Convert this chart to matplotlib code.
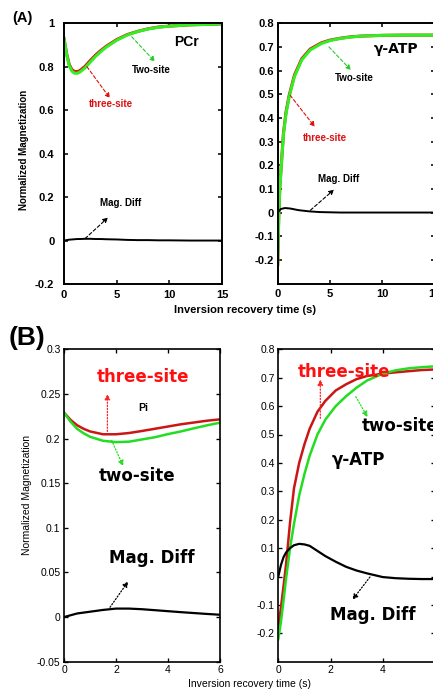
import numpy as np
import matplotlib
matplotlib.use("Agg")
import matplotlib.pyplot as plt

plt.rcParams['font.family'] = ['Liberation Sans', 'DejaVu Sans']

# ---------------- data ----------------
# (A) PCr
t_pcr = [0, 0.25, 0.5, 0.75, 1.0, 1.25, 1.5, 2, 2.5, 3, 3.5, 4, 5, 6, 7, 8, 9, 10, 12, 15]
pcr_two = [0.93, 0.855, 0.805, 0.78, 0.77, 0.77, 0.775, 0.795, 0.822, 0.848, 0.87, 0.89,
           0.922, 0.946, 0.962, 0.974, 0.982, 0.987, 0.993, 0.997]
pcr_three = [0.93, 0.86, 0.81, 0.787, 0.778, 0.778, 0.782, 0.802, 0.829, 0.854, 0.875, 0.894,
             0.925, 0.948, 0.963, 0.975, 0.983, 0.987, 0.993, 0.997]
pcr_diff = [0, 0.002, 0.004, 0.005, 0.006, 0.007, 0.007, 0.008, 0.008, 0.007, 0.007, 0.006,
            0.005, 0.003, 0.002, 0.002, 0.001, 0.001, 0.0, 0.0]

# (A) gamma-ATP
t_atp_a = [0, 0.1, 0.2, 0.35, 0.55, 0.8, 1.1, 1.6, 2.3, 3.1, 4.2, 5, 6, 7, 8, 10, 12, 15]
atp_a_two = [-0.22, -0.02, 0.1, 0.2, 0.33, 0.42, 0.49, 0.575, 0.645, 0.687, 0.715, 0.727,
             0.736, 0.742, 0.746, 0.749, 0.75, 0.75]
atp_a_three = [-0.22, -0.015, 0.105, 0.205, 0.335, 0.426, 0.496, 0.581, 0.65, 0.691, 0.718, 0.729,
               0.737, 0.743, 0.746, 0.749, 0.75, 0.75]
t_atp_a_diff = [0, 0.3, 0.7, 1.2, 2, 3, 4, 6, 10, 15]
atp_a_diff = [0.0, 0.015, 0.019, 0.017, 0.01, 0.005, 0.002, 0.0, 0.0, 0.0]

# (B) Pi
t_pi = [0, 0.25, 0.5, 0.75, 1.0, 1.5, 2.0, 2.5, 3, 3.5, 4, 4.5, 5, 5.5, 6]
pi_three = [0.229, 0.221, 0.215, 0.211, 0.208, 0.2048, 0.2048, 0.2062, 0.2085, 0.211, 0.2135,
            0.216, 0.218, 0.220, 0.2215]
pi_two = [0.229, 0.219, 0.211, 0.206, 0.202, 0.1975, 0.196, 0.1965, 0.199, 0.2015, 0.205,
          0.208, 0.2115, 0.2148, 0.2178]
pi_diff = [0, 0.002, 0.004, 0.005, 0.006, 0.008, 0.0095, 0.0095, 0.0088, 0.0077, 0.0066,
           0.0055, 0.0045, 0.0035, 0.0026]

# (B) gamma-ATP
t_atp_b = [0, 0.1, 0.2, 0.3, 0.45, 0.6, 0.8, 1.0, 1.2, 1.5, 1.8, 2.2, 2.6, 3.0, 3.4, 4, 4.5, 5, 5.5, 6]
atp_b_three = [-0.18, -0.11, -0.035, 0.045, 0.19, 0.31, 0.40, 0.465, 0.52, 0.58, 0.618, 0.655,
               0.677, 0.695, 0.706, 0.714, 0.719, 0.723, 0.727, 0.729]
atp_b_two = [-0.22, -0.16, -0.085, -0.005, 0.1, 0.185, 0.285, 0.36, 0.425, 0.5, 0.552, 0.6,
             0.635, 0.665, 0.69, 0.714, 0.726, 0.733, 0.737, 0.74]
atp_b_diff = [0.0, 0.04, 0.068, 0.085, 0.1, 0.11, 0.115, 0.113, 0.108, 0.09, 0.072, 0.052,
              0.034, 0.021, 0.011, -0.002, -0.006, -0.008, -0.009, -0.009]

# tick labels
ticks_a_left = [-0.2, 0, 0.2, 0.4, 0.6, 0.8, 1]
ticklabels_a_left = ['-0.2', '0', '0.2', '0.4', '0.6', '0.8', '1']
ticks_atp = [-0.2, -0.1, 0, 0.1, 0.2, 0.3, 0.4, 0.5, 0.6, 0.7, 0.8]
ticklabels_atp = ['-0.2', '-0.1', '0', '0.1', '0.2', '0.3', '0.4', '0.5', '0.6', '0.7', '0.8']
ticks_pi = [-0.05, 0, 0.05, 0.1, 0.15, 0.2, 0.25, 0.3]
ticklabels_pi = ['-0.05', '0', '0.05', '0.1', '0.15', '0.2', '0.25', '0.3']
xticks_a = [0, 5, 10, 15]
xticks_b = [0, 2, 4, 6]

# ---------------- figure ----------------
W, H = 433, 696
fig = plt.figure(figsize=(W / 100, H / 100), dpi=100)

def pos(x0, y0, x1, y1):
    return [x0 / W, 1 - y1 / H, (x1 - x0) / W, (y1 - y0) / H]

axA1 = fig.add_axes(pos(64, 23.3, 222, 284))
axA2 = fig.add_axes(pos(277.7, 23.3, 434.6, 283.5))
axB1 = fig.add_axes(pos(64, 349.3, 220, 661.7))
axB2 = fig.add_axes(pos(278.3, 349.3, 434.9, 661.7))

RED_A, GREEN_A = '#dd1111', '#33ee22'
RED_B, GREEN_B = '#cc1515', '#22dd22'

def style(ax, bold, lw, pad_y, pad_x, size):
    for s in ax.spines.values():
        s.set_linewidth(lw)
    ax.tick_params(direction='in', top=True, right=True, length=3, width=lw * 0.8,
                   labelsize=size)
    ax.tick_params(axis='y', pad=pad_y)
    ax.tick_params(axis='x', pad=pad_x)
    if bold:
        for lab in ax.get_xticklabels() + ax.get_yticklabels():
            lab.set_fontweight('bold')

# ---- A left: PCr ----
ax = axA1
ax.plot(t_pcr, pcr_three, color=RED_A, lw=2.2)
ax.plot(t_pcr, pcr_two, color=GREEN_A, lw=2.2)
ax.plot(t_pcr, pcr_diff, color='black', lw=1.4)
ax.set_xlim(0, 15); ax.set_ylim(-0.2, 1)
ax.set_xticks(xticks_a); ax.set_xticklabels([str(v) for v in xticks_a])
ax.set_yticks(ticks_a_left); ax.set_yticklabels(ticklabels_a_left)
style(ax, True, 1.4, 7, 4, 8)
ax.text(11.6, 0.914, 'PCr', fontsize=10, fontweight='bold', ha='center', va='center')
ax.text(8.3, 0.785, 'Two-site', fontsize=7, fontweight='bold', ha='center', va='center')
ax.text(4.46, 0.628, 'three-site', fontsize=7, fontweight='bold', color=RED_A, ha='center', va='center')
ax.text(5.4, 0.171, 'Mag. Diff', fontsize=7, fontweight='bold', ha='center', va='center')
arrA = dict(arrowstyle='-|>', linestyle=(0, (3, 2)), lw=0.8, mutation_scale=7, shrinkA=0, shrinkB=0)
ax.annotate('', xy=(8.64, 0.823), xytext=(6.43, 0.938), arrowprops=dict(arrA, color='#22cc22'))
ax.annotate('', xy=(4.37, 0.655), xytext=(2.18, 0.80), arrowprops=dict(arrA, color=RED_A))
ax.annotate('', xy=(4.18, 0.106), xytext=(2.0, 0.009), arrowprops=dict(arrA, color='black'))

# ---- A right: gamma-ATP ----
ax = axA2
ax.plot(t_atp_a, atp_a_three, color=RED_A, lw=2.2)
ax.plot(t_atp_a, atp_a_two, color=GREEN_A, lw=2.2)
ax.plot(t_atp_a_diff, atp_a_diff, color='black', lw=1.4)
ax.set_xlim(0, 15); ax.set_ylim(-0.3, 0.8)
ax.set_xticks(xticks_a); ax.set_xticklabels([str(v) for v in xticks_a])
ax.set_yticks(ticks_atp); ax.set_yticklabels(ticklabels_atp)
style(ax, True, 1.4, 2.5, 4, 8)
ax.text(11.35, 0.69, 'γ-ATP', fontsize=10, fontweight='bold', ha='center', va='center',
        family=['DejaVu Sans'])
ax.text(7.32, 0.567, 'Two-site', fontsize=7, fontweight='bold', ha='center', va='center')
ax.text(4.5, 0.316, 'three-site', fontsize=7, fontweight='bold', color=RED_A, ha='center', va='center')
ax.text(5.87, 0.14, 'Mag. Diff', fontsize=7, fontweight='bold', ha='center', va='center')
ax.annotate('', xy=(7.0, 0.602), xytext=(4.9, 0.70), arrowprops=dict(arrA, color='#22cc22'))
ax.annotate('', xy=(3.55, 0.362), xytext=(1.19, 0.496), arrowprops=dict(arrA, color=RED_A))
ax.annotate('', xy=(5.39, 0.097), xytext=(3.13, 0.01), arrowprops=dict(arrA, color='black'))

# ---- B left: Pi ----
BIG = dict(fontsize=12, fontweight='heavy', ha='center', va='center', family=['DejaVu Sans'])
arrB = dict(arrowstyle='-|>', linestyle=(0, (1, 1.5)), lw=0.9, mutation_scale=8, shrinkA=0, shrinkB=0)
ax = axB1
ax.plot(t_pi, pi_three, color=RED_B, lw=1.8)
ax.plot(t_pi, pi_two, color=GREEN_B, lw=1.8)
ax.plot(t_pi, pi_diff, color='black', lw=1.6)
ax.set_xlim(0, 6); ax.set_ylim(-0.05, 0.3)
ax.set_xticks(xticks_b); ax.set_xticklabels([str(v) for v in xticks_b])
ax.set_yticks(ticks_pi); ax.set_yticklabels(ticklabels_pi)
style(ax, False, 1.2, 2.5, 2.5, 7.5)
ax.text(3.05, 0.2687, 'three-site', color='#ff1010', **BIG)
ax.text(2.8, 0.158, 'two-site', color='black', **BIG)
ax.text(3.37, 0.066, 'Mag. Diff', color='black', **BIG)
ax.text(3.05, 0.234, 'Pi', fontsize=7.5, fontweight='bold', ha='center', va='center')
ax.annotate('', xy=(1.67, 0.25), xytext=(1.67, 0.208), arrowprops=dict(arrB, color='#ff2020'))
ax.annotate('', xy=(2.28, 0.169), xytext=(1.83, 0.198), arrowprops=dict(arrB, color='#22dd22'))
ax.annotate('', xy=(2.47, 0.04), xytext=(1.77, 0.011), arrowprops=dict(arrB, color='black'))

# ---- B right: gamma-ATP ----
ax = axB2
ax.plot(t_atp_b, atp_b_three, color=RED_B, lw=1.8)
ax.plot(t_atp_b, atp_b_two, color=GREEN_B, lw=1.8)
ax.plot(t_atp_b, atp_b_diff, color='black', lw=1.6)
ax.set_xlim(0, 6); ax.set_ylim(-0.3, 0.8)
ax.set_xticks(xticks_b); ax.set_xticklabels([str(v) for v in xticks_b])
ax.set_yticks(ticks_atp); ax.set_yticklabels(ticklabels_atp)
style(ax, False, 1.2, 2.5, 2.5, 7.5)
ax.text(2.52, 0.721, 'three-site', color='#ff1010', **BIG)
ax.text(4.65, 0.53, 'two-site', color='black', **BIG)
ax.text(3.07, 0.41, 'γ-ATP', color='black', **BIG)
ax.text(3.61, -0.135, 'Mag. Diff', color='black', **BIG)
ax.annotate('', xy=(1.61, 0.694), xytext=(1.61, 0.557), arrowprops=dict(arrB, color='#ff2020'))
ax.annotate('', xy=(3.42, 0.561), xytext=(2.97, 0.633), arrowprops=dict(arrB, color='#22dd22'))
ax.annotate('', xy=(2.84, -0.082), xytext=(3.51, -0.002), arrowprops=dict(arrB, color='black'))

# ---- figure texts ----
fig.text(12 / W, 1 - 18 / H, '(A)', fontsize=10.5, fontweight='bold', ha='left', va='center')
fig.text(9 / W, 1 - 338 / H, '(B)', fontsize=19, fontweight='bold', ha='left', va='center')
fig.text(24 / W, 1 - 150 / H, 'Normalized Magnetization', rotation=90, fontsize=7,
         fontweight='bold', ha='center', va='center')
fig.text(27 / W, 1 - 495 / H, 'Normalized Magnetization', rotation=90, fontsize=7.5,
         ha='center', va='center')
fig.text(245 / W, 1 - 310 / H, 'Inversion recovery time (s)', fontsize=8, fontweight='bold',
         ha='center', va='center')
fig.text(249 / W, 1 - 684 / H, 'Inversion recovery time (s)', fontsize=7.5,
         ha='center', va='center')

fig.savefig('out.png', dpi=100)
